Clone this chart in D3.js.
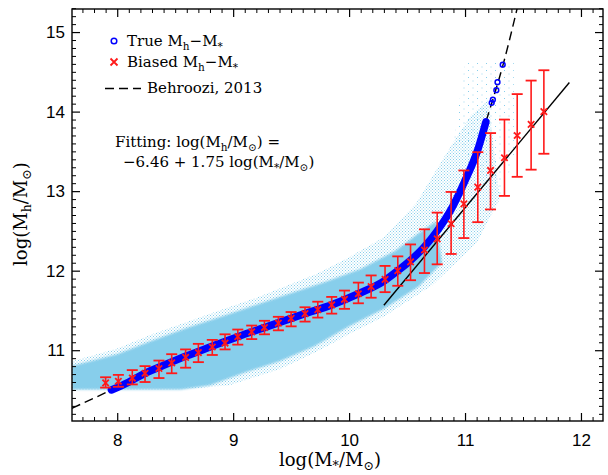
<!DOCTYPE html>
<html>
<head>
<meta charset="utf-8">
<script src="https://cdn.jsdelivr.net/npm/d3@7"></script>
<style>
  body { margin: 0; background: #fff; }
  svg { display: block; }
  .lbl { font-family: "DejaVu Serif", serif; fill: #000; }
  .tick text { font-family: "Liberation Sans", Arial, sans-serif; font-size: 17px; fill: #000; }
</style>
</head>
<body>
<script>
// axis ticks
var xTicks = [8, 9, 10, 11, 12];
var yTicks = [11, 12, 13, 14, 15];

// biased Mh-M* (red crosses with error bars)
var biasX  = [7.90, 8.01, 8.13, 8.24, 8.36, 8.47, 8.59, 8.70, 8.82, 8.93, 9.04, 9.16, 9.27, 9.39, 9.50, 9.62, 9.73,
              9.85, 9.96, 10.08, 10.19, 10.31, 10.42, 10.53, 10.65, 10.76, 10.88, 10.99, 11.11, 11.22, 11.34, 11.45, 11.57, 11.68];
var biasY  = [10.59, 10.61, 10.65, 10.71, 10.77, 10.84, 10.91, 10.97, 11.04, 11.09, 11.17, 11.23, 11.285, 11.34, 11.40, 11.46, 11.51,
              11.57, 11.64, 11.71, 11.80, 11.89, 12.00, 12.11, 12.26, 12.40, 12.59, 12.84, 13.05, 13.26, 13.42, 13.70, 13.84, 14.00];
var biasLo = [10.53, 10.54, 10.57, 10.60, 10.65, 10.71, 10.78, 10.85, 10.94, 11.01, 11.07, 11.14, 11.20, 11.25, 11.30, 11.36, 11.41,
              11.46, 11.52, 11.59, 11.66, 11.73, 11.81, 11.88, 11.97, 12.08, 12.21, 12.41, 12.61, 12.77, 12.94, 13.18, 13.27, 13.47];
var biasHi = [10.66, 10.69, 10.75, 10.80, 10.87, 10.95, 11.01, 11.08, 11.13, 11.20, 11.26, 11.31, 11.37, 11.42, 11.48, 11.54, 11.61,
              11.67, 11.75, 11.85, 11.94, 12.06, 12.18, 12.33, 12.52, 12.73, 12.99, 13.26, 13.49, 13.73, 13.90, 14.22, 14.39, 14.52];

// true Mh-M* (dense blue band + a few separate circles at the top)
var trueX = [7.95, 8.10, 8.24, 8.40, 8.60, 8.80, 9.04, 9.30, 9.60, 9.85, 10.08, 10.30, 10.42, 10.53, 10.65, 10.76, 10.88, 10.99, 11.11, 11.18];
var trueY = [10.50, 10.60, 10.71, 10.81, 10.93, 11.04, 11.17, 11.30, 11.45, 11.57, 11.71, 11.87, 12.00, 12.13, 12.30, 12.50, 12.77, 13.10, 13.52, 13.87];
var trueTopX = [11.18, 11.23, 11.24, 11.27, 11.28, 11.325];
var trueTopY = [13.87, 14.11, 14.15, 14.27, 14.37, 14.59];

// Behroozi 2013 relation
var behX = [7.61, 7.95, 8.40, 8.80, 9.30, 9.85, 10.30, 10.53, 10.76, 10.99, 11.11, 11.18, 11.25, 11.33, 11.45];
var behY = [10.27, 10.50, 10.81, 11.04, 11.30, 11.57, 11.87, 12.13, 12.50, 13.10, 13.52, 13.87, 14.20, 14.60, 15.30];

// fitted line end points
var fitX = [10.30, 11.90];
var fitY = [11.565, 14.365];

// light blue galaxy cloud: dense core, halo and sparse top outlines (top edge, then bottom edge)
var coreTopX = [7.61, 8.0, 8.3, 8.6, 9.0, 9.4, 9.8, 10.1, 10.4, 10.6, 10.75];
var coreTopY = [10.80, 10.95, 11.12, 11.28, 11.47, 11.67, 11.86, 12.02, 12.25, 12.47, 12.62];
var coreBotX = [7.61, 8.55, 8.8, 9.1, 9.4, 9.7, 10.0, 10.3, 10.6, 10.8];
var coreBotY = [10.505, 10.505, 10.56, 10.72, 10.86, 11.05, 11.30, 11.52, 11.80, 12.10];
var haloTopX = [7.61, 8.0, 8.3, 8.8, 9.2, 9.7, 10.0, 10.3, 10.58, 10.87, 11.05, 11.2];
var haloTopY = [10.86, 11.02, 11.20, 11.46, 11.66, 11.95, 12.17, 12.42, 12.85, 13.55, 13.95, 14.15];
var haloBotX = [7.61, 8.5, 8.97, 9.4, 9.72, 10.0, 10.3, 10.72, 11.1, 11.3];
var haloBotY = [10.50, 10.50, 10.56, 10.76, 10.98, 11.2, 11.42, 11.82, 12.35, 12.9];
var sparseX = [10.9, 11.0, 11.42, 11.42, 11.3];
var sparseY = [13.6, 14.62, 14.62, 13.4, 12.9];

var width = 608, height = 475;
var pL = 72, pR = 603, pT = 9, pB = 421;

var svg = d3.select("body").append("svg")
  .attr("width", width)
  .attr("height", height);

var x = d3.scaleLinear().domain([7.61, 12.19]).range([pL, pR]);
var y = d3.scaleLinear().domain([10.11, 15.29]).range([pB, pT]);

var defs = svg.append("defs");
defs.append("clipPath").attr("id", "plot")
  .append("rect").attr("x", pL).attr("y", pT).attr("width", pR - pL).attr("height", pB - pT);
var p1 = defs.append("pattern").attr("id", "halo").attr("width", 3).attr("height", 3).attr("patternUnits", "userSpaceOnUse");
p1.append("rect").attr("width", 1).attr("height", 1).attr("fill", "#87ceeb");
p1.append("rect").attr("x", 1.5).attr("y", 1.5).attr("width", 1).attr("height", 1).attr("fill", "#87ceeb");
var p2 = defs.append("pattern").attr("id", "sparse").attr("width", 9).attr("height", 7).attr("patternUnits", "userSpaceOnUse");
p2.append("rect").attr("width", 1).attr("height", 1).attr("fill", "#87ceeb");
p2.append("rect").attr("x", 4.5).attr("y", 3.5).attr("width", 1).attr("height", 1).attr("fill", "#9fd6ee");
defs.append("filter").attr("id", "soft")
  .append("feGaussianBlur").attr("stdDeviation", 1.2);

var g = svg.append("g").attr("clip-path", "url(#plot)");

function outline(tx, ty, bx, by) {
  var pts = tx.map((d, i) => [x(d), y(ty[i])]);
  var low = bx.map((d, i) => [x(d), y(by[i])]).reverse();
  return "M" + pts.concat(low).join("L") + "Z";
}

g.append("path")
  .attr("d", "M" + sparseX.map((d, i) => [x(d), y(sparseY[i])]).join("L") + "Z")
  .attr("fill", "url(#sparse)");
g.append("path")
  .attr("d", outline(haloTopX, haloTopY, haloBotX, haloBotY))
  .attr("fill", "url(#halo)");
g.append("path")
  .attr("d", outline(coreTopX, coreTopY, coreBotX, coreBotY))
  .attr("fill", "#87ceeb")
  .attr("filter", "url(#soft)");

var line = d3.line().x(d => x(d[0])).y(d => y(d[1])).curve(d3.curveMonotoneX);

// Behroozi dashed
g.append("path")
  .attr("d", line(behX.map((d, i) => [d, behY[i]])))
  .attr("fill", "none")
  .attr("stroke", "#000")
  .attr("stroke-width", 1.4)
  .attr("stroke-dasharray", "9,5");

// fit
g.append("path")
  .attr("d", d3.line()(fitX.map((d, i) => [x(d), y(fitY[i])])))
  .attr("stroke", "#000")
  .attr("stroke-width", 1.4);

// true band
g.append("path")
  .attr("d", line(trueX.map((d, i) => [d, trueY[i]])))
  .attr("fill", "none")
  .attr("stroke", "#0000ff")
  .attr("stroke-width", 7.5)
  .attr("stroke-linecap", "round");

g.selectAll(".tc")
  .data(trueTopX)
  .enter()
  .append("circle")
  .attr("cx", d => x(d))
  .attr("cy", (d, i) => y(trueTopY[i]))
  .attr("r", 2.4)
  .attr("fill", "none")
  .attr("stroke", "#0000ff")
  .attr("stroke-width", 1.5);

// error bars
var red = "#ff1a1a";
var bars = g.selectAll(".bar")
  .data(biasX)
  .enter()
  .append("g");
bars.append("line")
  .attr("x1", d => x(d)).attr("x2", d => x(d))
  .attr("y1", (d, i) => y(biasLo[i])).attr("y2", (d, i) => y(biasHi[i]))
  .attr("stroke", red).attr("stroke-width", 1.6);
bars.append("line")
  .attr("x1", d => x(d) - 5.5).attr("x2", d => x(d) + 5.5)
  .attr("y1", (d, i) => y(biasLo[i])).attr("y2", (d, i) => y(biasLo[i]))
  .attr("stroke", red).attr("stroke-width", 1.8);
bars.append("line")
  .attr("x1", d => x(d) - 5.5).attr("x2", d => x(d) + 5.5)
  .attr("y1", (d, i) => y(biasHi[i])).attr("y2", (d, i) => y(biasHi[i]))
  .attr("stroke", red).attr("stroke-width", 1.8);
bars.append("path")
  .attr("d", (d, i) => {
    var cx = x(d), cy = y(biasY[i]), s = 3.2;
    return "M" + (cx - s) + "," + (cy - s) + "L" + (cx + s) + "," + (cy + s) +
           "M" + (cx - s) + "," + (cy + s) + "L" + (cx + s) + "," + (cy - s);
  })
  .attr("stroke", red).attr("stroke-width", 1.8);

// axes with inward ticks on all four sides
var xMinor = d3.range(7.7, 12.2, 0.1).map(d => +d.toFixed(1)).filter(d => xTicks.indexOf(d) < 0);
var yMinor = d3.range(10.2, 15.3, 0.1).map(d => +d.toFixed(1)).filter(d => yTicks.indexOf(d) < 0);

function axes(axisFn, scale, pad, tr, major, minor, labels) {
  var m = svg.append("g").attr("transform", tr)
    .call(axisFn(scale).tickValues(minor).tickSize(-4));
  m.select(".domain").remove();
  m.selectAll("text").remove();
  var a = svg.append("g").attr("transform", tr)
    .call(axisFn(scale).tickValues(major).tickSize(-8).tickPadding(pad).tickFormat(d3.format("d")));
  a.select(".domain").remove();
  a.selectAll("line").attr("stroke-width", 1.2);
  if (!labels) a.selectAll("text").remove();
}
axes(d3.axisBottom, x, 13, "translate(0," + pB + ")", xTicks, xMinor, true);
axes(d3.axisTop, x, 3, "translate(0," + pT + ")", xTicks, xMinor, false);
axes(d3.axisLeft, y, 7, "translate(" + pL + ",0)", yTicks, yMinor, true);
axes(d3.axisRight, y, 3, "translate(" + pR + ",0)", yTicks, yMinor, false);

svg.append("rect")
  .attr("x", pL).attr("y", pT)
  .attr("width", pR - pL).attr("height", pB - pT)
  .attr("fill", "none").attr("stroke", "#000").attr("stroke-width", 1.4);

// text with subscripts: [text, isSub]
function subText(sel, parts) {
  var down = false;
  parts.forEach(p => {
    var t = sel.append("tspan").text(p[0]);
    if (p[1]) {
      t.attr("font-size", "0.7em");
      if (!down) t.attr("dy", 4);
      down = true;
    } else if (down) {
      t.attr("dy", -4);
      down = false;
    }
  });
}
var xt = svg.append("text").attr("class", "lbl").attr("x", 330).attr("y", 466)
  .attr("text-anchor", "middle").attr("font-size", 18);
subText(xt, [["log(M"], ["*", 1], ["/M"], ["\u2299", 1], [")"]]);

var yt = svg.append("text").attr("class", "lbl")
  .attr("transform", "translate(27,214) rotate(-90)")
  .attr("text-anchor", "middle").attr("font-size", 18);
subText(yt, [["log(M"], ["h", 1], ["/M"], ["\u2299", 1], [")"]]);

// legend
svg.append("circle").attr("cx", 114).attr("cy", 41).attr("r", 2.8)
  .attr("fill", "none").attr("stroke", "#0000ff").attr("stroke-width", 1.5);
var l1 = svg.append("text").attr("class", "lbl").attr("x", 127).attr("y", 46).attr("font-size", 15);
subText(l1, [["True M"], ["h", 1], ["\u2212M"], ["*", 1]]);

svg.append("path").attr("d", "M110.5,58.5L117.5,65.5M110.5,65.5L117.5,58.5")
  .attr("stroke", red).attr("stroke-width", 1.8);
var l2 = svg.append("text").attr("class", "lbl").attr("x", 127).attr("y", 67).attr("font-size", 15);
subText(l2, [["Biased M"], ["h", 1], ["\u2212M"], ["*", 1]]);

svg.append("line").attr("x1", 105).attr("x2", 141).attr("y1", 88.5).attr("y2", 88.5)
  .attr("stroke", "#000").attr("stroke-width", 1.4).attr("stroke-dasharray", "9,5");
svg.append("text").attr("class", "lbl").attr("x", 147).attr("y", 93).attr("font-size", 15)
  .text("Behroozi, 2013");

var f1 = svg.append("text").attr("class", "lbl").attr("x", 115).attr("y", 147).attr("font-size", 15);
subText(f1, [["Fitting: log(M"], ["h", 1], ["/M"], ["\u2299", 1], [") ="]]);
var f2 = svg.append("text").attr("class", "lbl").attr("x", 123).attr("y", 167).attr("font-size", 15)
  .attr("xml:space", "preserve");
subText(f2, [["\u22126.46 + 1.75 log(M"], ["*", 1], ["/M"], ["\u2299", 1], [")"]]);
</script>
</body>
</html>
